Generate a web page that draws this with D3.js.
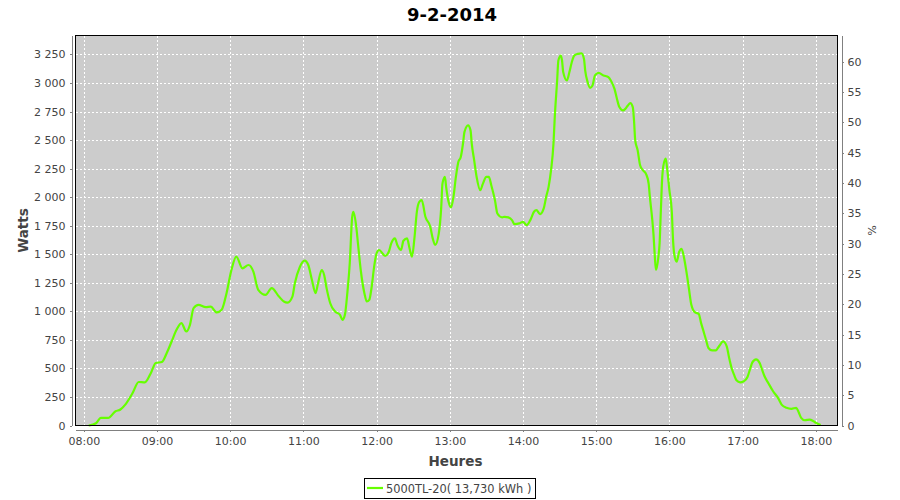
<!DOCTYPE html>
<html>
<head>
<meta charset="utf-8">
<script src="https://cdn.jsdelivr.net/npm/d3@7"></script>
<style>
  html, body { margin: 0; padding: 0; background: #ffffff; }
  svg { display: block; }
  text { font-family: "DejaVu Sans", sans-serif; }
</style>
</head>
<body>
<svg id="chart" width="900" height="500"></svg>
<script>
// ---------------- data ----------------
const title = "9-2-2014";
const seriesName = "5000TL-20( 13,730 kWh )";
const xLabel = "Heures";
const yLabel = "Watts";
const y2Label = "%";

const times = [
  "08:04","08:10","08:14","08:20","08:26","08:30","08:34","08:40","08:45","08:50",
  "08:55","08:59","09:04","09:08","09:12","09:16","09:20","09:24","09:27","09:30",
  "09:34","09:40","09:44","09:49","09:53","09:57","10:01","10:05","10:10","10:15",
  "10:19","10:23","10:29","10:34","10:40","10:44","10:47","10:51","10:53","10:57",
  "11:01","11:04","11:07","11:10","11:12","11:15","11:17","11:19","11:22","11:26",
  "11:30","11:32","11:34","11:36","11:38","11:40","11:41","11:43","11:45","11:47",
  "11:50","11:52","11:54","11:56","11:58","12:00","12:02","12:07","12:10","12:12",
  "12:15","12:17","12:20","12:22","12:25","12:27","12:29","12:31","12:33","12:35",
  "12:37","12:40","12:44","12:46","12:48","12:51","12:53","12:54","12:56","12:57",
  "12:59","13:01","13:03","13:05","13:07","13:09","13:11","13:12","13:15","13:17",
  "13:18","13:20","13:22","13:25","13:27","13:30","13:32","13:34","13:37","13:39",
  "13:43","13:45","13:48","13:51","13:53","13:57","14:00","14:03","14:06","14:09",
  "14:11","14:14","14:17","14:19","14:21","14:23","14:25","14:26","14:28","14:29",
  "14:31","14:32","14:33","14:36","14:38","14:40","14:42","14:45","14:48","14:50",
  "14:51","14:53","14:55","14:57","14:59","15:02","15:06","15:10","15:12","15:15",
  "15:17","15:19","15:22","15:24","15:26","15:28","15:30","15:31","15:32","15:34",
  "15:36","15:38","15:41","15:43","15:44","15:46","15:47","15:48","15:49","15:51",
  "15:52","15:53","15:54","15:55","15:57","15:58","16:00","16:02","16:03","16:04",
  "16:06","16:08","16:10","16:12","16:14","16:16","16:18","16:21","16:24","16:26",
  "16:28","16:30","16:32","16:35","16:38","16:41","16:44","16:47","16:49","16:51",
  "16:53","16:55","16:58","17:01","17:04","17:06","17:08","17:11","17:14","17:16",
  "17:18","17:21","17:25","17:29","17:32","17:36","17:40","17:44","17:46","17:48",
  "17:51","17:55","17:58","18:00","18:04"
];

const watts = [
  0,20,67,67,125,140,183,285,381,378,
  460,548,556,635,736,838,897,824,882,1028,
  1057,1037,1042,990,1013,1159,1362,1479,1377,1406,
  1348,1188,1144,1203,1129,1086,1077,1129,1246,1386,
  1444,1406,1275,1159,1246,1362,1319,1203,1071,998,
  969,926,969,1159,1421,1828,1872,1770,1566,1362,
  1159,1086,1100,1217,1392,1508,1537,1485,1522,1595,
  1639,1581,1537,1618,1639,1552,1479,1639,1872,1959,
  1974,1828,1741,1639,1581,1683,1915,2119,2177,2090,
  1959,1910,2003,2177,2308,2352,2483,2570,2629,2585,
  2469,2323,2177,2061,2114,2177,2177,2105,1974,1857,
  1823,1828,1823,1799,1764,1770,1784,1755,1799,1872,
  1886,1852,1901,2003,2090,2236,2470,2690,3022,3197,
  3240,3197,3094,3022,3094,3182,3240,3255,3260,3211,
  3109,3007,2958,2978,3066,3089,3066,3051,3022,2949,
  2862,2789,2760,2775,2803,2824,2789,2672,2498,2410,
  2280,2240,2200,2119,2003,1799,1670,1490,1362,1479,
  1600,1880,2148,2270,2338,2265,2061,1870,1624,1500,
  1435,1520,1548,1470,1345,1200,1057,990,978,897,
  824,751,679,658,658,699,736,693,591,504,
  445,396,378,387,425,489,553,580,548,489,
  431,373,300,242,183,155,146,155,116,67,
  46,52,38,24,5
];

const xDomain = ["07:53:12", "18:17:48"];
const hourTicks = ["08:00","09:00","10:00","11:00","12:00","13:00","14:00","15:00","16:00","17:00","18:00"];
const wattTicks = [0,250,500,750,1000,1250,1500,1750,2000,2250,2500,2750,3000,3250];
const wattMax = 3416;
const pctTicks = [0,5,10,15,20,25,30,35,40,45,50,55,60];
const pctMax = 64.3;

// ---------------- layout ----------------
const plot = { left: 75.5, right: 837.5, top: 35.5, bottom: 425.5 };
const axisOffset = 4;
const lineColor = "#66ff00";
const textColor = "#444444";
const axisColor = "#808080";

const svg = d3.select("#chart");
const parseHM = d3.timeParse("%H:%M");
const parseHMS = d3.timeParse("%H:%M:%S");

const x = d3.scaleTime()
  .domain(xDomain.map(parseHMS))
  .range([plot.left, plot.right]);
const y = d3.scaleLinear().domain([0, wattMax]).range([plot.bottom, plot.top]);
const y2 = d3.scaleLinear().domain([0, pctMax]).range([plot.bottom, plot.top]);

const fr = d3.formatLocale({ decimal: ",", thousands: " ", grouping: [3], currency: ["", " €"] });
const fmtW = fr.format(",d");

const data = times.map((t, i) => ({ t: parseHM(t), w: watts[i] }));

// plot background
svg.append("rect")
  .attr("x", plot.left).attr("y", plot.top)
  .attr("width", plot.right - plot.left).attr("height", plot.bottom - plot.top)
  .attr("fill", "#cccccc");

// grid
const grid = svg.append("g").attr("stroke", "#ffffff").attr("stroke-width", 1)
  .attr("stroke-dasharray", "2,2").attr("shape-rendering", "crispEdges");
grid.selectAll("line.v").data(hourTicks.map(parseHM)).enter().append("line")
  .attr("x1", d => Math.round(x(d)) + 0.5).attr("x2", d => Math.round(x(d)) + 0.5)
  .attr("y1", plot.top).attr("y2", plot.bottom);
grid.selectAll("line.h").data(wattTicks.filter(d => d > 0)).enter().append("line")
  .attr("x1", plot.left).attr("x2", plot.right)
  .attr("y1", d => Math.round(y(d)) + 0.5).attr("y2", d => Math.round(y(d)) + 0.5);

// series line
const line = d3.line()
  .x(d => x(d.t)).y(d => y(d.w))
  .curve(d3.curveMonotoneX);
svg.append("path")
  .datum(data)
  .attr("fill", "none")
  .attr("stroke", lineColor)
  .attr("stroke-width", 2.2)
  .attr("stroke-linejoin", "round")
  .attr("d", line);

// plot border
svg.append("rect")
  .attr("x", plot.left).attr("y", plot.top)
  .attr("width", plot.right - plot.left).attr("height", plot.bottom - plot.top)
  .attr("fill", "none").attr("stroke", "#000000").attr("stroke-width", 1.2)
  .attr("shape-rendering", "crispEdges");

// axes
function styleAxis(g) {
  g.selectAll(".domain").attr("stroke", axisColor);
  g.selectAll(".tick line").attr("stroke", axisColor);
  g.selectAll(".tick text").attr("fill", textColor)
    .style("font-family", "'DejaVu Sans', sans-serif").style("font-size", "11px");
  g.attr("shape-rendering", "crispEdges");
}

const xAxis = d3.axisBottom(x)
  .tickValues(hourTicks.map(parseHM))
  .tickFormat(d3.timeFormat("%H:%M"))
  .tickSize(2).tickSizeOuter(0).tickPadding(6);
svg.append("g")
  .attr("transform", `translate(0,${plot.bottom + axisOffset})`)
  .call(xAxis).call(styleAxis);

const yAxis = d3.axisLeft(y)
  .tickValues(wattTicks).tickFormat(fmtW)
  .tickSize(2).tickSizeOuter(0).tickPadding(4);
svg.append("g")
  .attr("transform", `translate(${plot.left - axisOffset},0)`)
  .call(yAxis).call(styleAxis);

const y2Axis = d3.axisRight(y2)
  .tickValues(pctTicks).tickFormat(d3.format("d"))
  .tickSize(2).tickSizeOuter(0).tickPadding(4);
svg.append("g")
  .attr("transform", `translate(${plot.right + axisOffset},0)`)
  .call(y2Axis).call(styleAxis);

// titles
svg.append("text")
  .attr("x", 452).attr("y", 21)
  .attr("text-anchor", "middle")
  .style("font-size", "18px").style("font-weight", "bold")
  .attr("fill", "#000000")
  .text(title);

svg.append("text")
  .attr("x", (plot.left + plot.right) / 2 - 1).attr("y", 466)
  .attr("text-anchor", "middle")
  .style("font-size", "13.5px").style("font-weight", "bold")
  .attr("fill", textColor)
  .text(xLabel);

svg.append("text")
  .attr("transform", `translate(28,${(plot.top + plot.bottom) / 2}) rotate(-90)`)
  .attr("text-anchor", "middle")
  .style("font-size", "13.5px").style("font-weight", "bold")
  .attr("fill", textColor)
  .text(yLabel);

svg.append("text")
  .attr("transform", `translate(868,${(plot.top + plot.bottom) / 2}) rotate(90)`)
  .attr("text-anchor", "middle")
  .style("font-size", "11px")
  .attr("fill", textColor)
  .text(y2Label);

// legend
const legend = svg.append("g");
legend.append("rect")
  .attr("x", 364.5).attr("y", 478.5).attr("width", 171).attr("height", 20)
  .attr("fill", "#ffffff").attr("stroke", "#000000").attr("stroke-width", 1)
  .attr("shape-rendering", "crispEdges");
legend.append("line")
  .attr("x1", 367).attr("x2", 383).attr("y1", 488).attr("y2", 488)
  .attr("stroke", lineColor).attr("stroke-width", 2.2);
legend.append("text")
  .attr("x", 386).attr("y", 492.5)
  .style("font-size", "11.4px")
  .attr("fill", textColor)
  .text(seriesName);
</script>
</body>
</html>
